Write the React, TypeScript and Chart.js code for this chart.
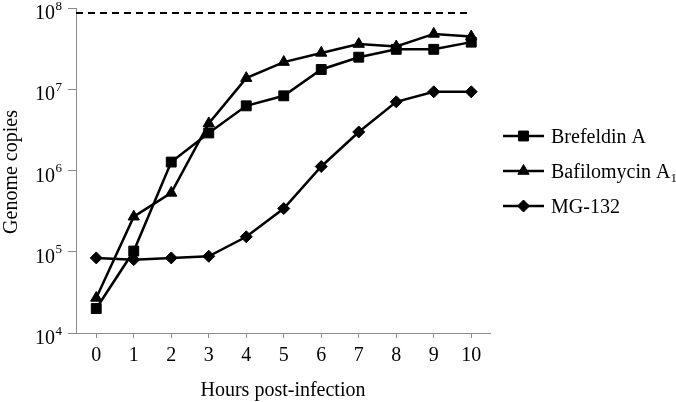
import React, { useEffect, useRef } from 'react';
import { Chart, registerables } from 'chart.js';

Chart.register(...registerables);

const FONT = "'Liberation Serif', 'Times New Roman', serif";

const hours = [0, 1, 2, 3, 4, 5, 6, 7, 8, 9, 10];
const brefeldinA = [2.0e4, 1.02e5, 1.27e6, 2.9e6, 6.25e6, 8.3e6, 1.75e7, 2.48e7, 3.1e7, 3.1e7, 3.8e7];
const bafilomycinA1 = [2.7e4, 2.7e5, 5.3e5, 3.8e6, 1.37e7, 2.16e7, 2.8e7, 3.6e7, 3.36e7, 4.8e7, 4.45e7];
const mg132 = [8.4e4, 8.0e4, 8.4e4, 8.8e4, 1.53e5, 3.4e5, 1.12e6, 2.98e6, 7.0e6, 9.3e6, 9.3e6];
const yTickValues = [1e4, 1e5, 1e6, 1e7, 1e8];
const limitValue = 8.7e7;
const limitRange = [-0.54, 10];
const seriesLabels = ['Brefeldin A', 'Bafilomycin A₁', 'MG-132'];
const seriesMarkers = ['rect', 'triangle', 'rectRot'];
const seriesRadii = [7, 6.5, 6];
const xTitle = 'Hours post-infection';
const yTitle = 'Genome copies';

function drawMarker(ctx: CanvasRenderingContext2D, style: string, x: number, y: number, r: number) {
  ctx.beginPath();
  if (style === 'rect') {
    const s = Math.SQRT1_2 * r;
    ctx.rect(x - s, y - s, 2 * s, 2 * s);
  } else if (style === 'triangle') {
    ctx.moveTo(x, y - r);
    ctx.lineTo(x + r * Math.sqrt(3) / 2, y + r / 2);
    ctx.lineTo(x - r * Math.sqrt(3) / 2, y + r / 2);
    ctx.closePath();
  } else {
    ctx.moveTo(x, y - r);
    ctx.lineTo(x + r, y);
    ctx.lineTo(x, y + r);
    ctx.lineTo(x - r, y);
    ctx.closePath();
  }
  ctx.fill();
  ctx.stroke();
}

const decorPlugin = {
  id: 'decor',
  afterDraw(chart: any) {
    const ctx = chart.ctx as CanvasRenderingContext2D;
    const ys = chart.scales.y;
    const area = chart.chartArea;
    ctx.save();
    ctx.fillStyle = '#000';
    ctx.textBaseline = 'alphabetic';
    // y tick labels 10^n
    yTickValues.forEach((v) => {
      const py = ys.getPixelForValue(v);
      const exp = Math.round(Math.log10(v));
      ctx.font = `20px ${FONT}`;
      ctx.textAlign = 'right';
      ctx.fillText('10', area.left - 21, py + 11);
      ctx.font = `13px ${FONT}`;
      ctx.textAlign = 'left';
      ctx.fillText(String(exp), area.left - 20.5, py + 1.5);
    });
    // y title
    ctx.save();
    ctx.translate(17, 172);
    ctx.rotate(-Math.PI / 2);
    ctx.font = `20px ${FONT}`;
    ctx.textAlign = 'center';
    ctx.fillText(yTitle, 0, 0);
    ctx.restore();
    // x title
    ctx.font = `20px ${FONT}`;
    ctx.textAlign = 'center';
    ctx.fillText(xTitle, (area.left + area.right) / 2, 396);
    // legend
    const rows = [136, 171, 206];
    const ds = chart.data.datasets.filter((d: any) => seriesLabels.includes(d.label));
    ds.forEach((d: any, i: number) => {
      const y = rows[i];
      ctx.strokeStyle = '#000';
      ctx.lineWidth = 2.5;
      ctx.beginPath();
      ctx.moveTo(503, y);
      ctx.lineTo(544, y);
      ctx.stroke();
      ctx.lineWidth = 1;
      ctx.fillStyle = '#000';
      drawMarker(ctx, seriesMarkers[i], 523.5, y, seriesRadii[i]);
      const label: string = d.label;
      ctx.font = `20px ${FONT}`;
      ctx.textAlign = 'left';
      if (label.endsWith('₁')) {
        const main = label.slice(0, -1);
        ctx.fillText(main, 551, y + 6.5);
        const w = ctx.measureText(main).width;
        ctx.font = `13px ${FONT}`;
        ctx.fillText('1', 551 + w, y + 11);
      } else {
        ctx.fillText(label, 551, y + 6.5);
      }
    });
    ctx.restore();
  },
};

export default function App() {
  const ref = useRef<HTMLCanvasElement | null>(null);
  useEffect(() => {
    if (!ref.current) return;
    const mk = (vals: number[]) => vals.map((v, i) => ({ x: hours[i], y: v }));
    const seriesData = [brefeldinA, bafilomycinA1, mg132];
    const datasets: any[] = seriesData.map((vals, i) => ({
      label: seriesLabels[i],
      data: mk(vals),
      borderColor: '#000',
      backgroundColor: '#000',
      borderWidth: 2.5,
      pointStyle: seriesMarkers[i],
      pointRadius: seriesRadii[i],
      pointBorderWidth: 1,
      pointBackgroundColor: '#000',
      pointBorderColor: '#000',
      tension: 0,
      clip: false,
    }));
    datasets.push({
      label: 'limit',
      data: limitRange.map((x) => ({ x, y: limitValue })),
      borderColor: '#000',
      borderWidth: 2,
      borderDash: [7, 5],
      pointRadius: 0,
      tension: 0,
    });
    const chart = new Chart(ref.current, {
      type: 'line',
      data: { datasets },
      options: {
        responsive: false,
        animation: false,
        layout: { padding: { left: 0, top: 5, right: 186, bottom: 0 } },
        plugins: { legend: { display: false }, tooltip: { enabled: false } },
        scales: {
          x: {
            type: 'linear',
            min: -0.54,
            max: 10.5,
            afterBuildTicks: (s: any) => {
              s.ticks = hours.map((v) => ({ value: v }));
            },
            afterFit: (s: any) => {
              s.height = 69;
            },
            ticks: { color: '#000', font: { family: FONT, size: 20 }, padding: 6, maxRotation: 0, autoSkip: false },
            grid: { drawOnChartArea: false, drawTicks: true, tickLength: 5, color: '#8c8c8c', lineWidth: 1 },
            border: { display: true, color: '#8c8c8c', width: 1 },
          },
          y: {
            type: 'logarithmic',
            min: 1e4,
            max: 1e8,
            afterBuildTicks: (s: any) => {
              s.ticks = yTickValues.map((v) => ({ value: v }));
            },
            afterFit: (s: any) => {
              s.width = 76;
            },
            ticks: { callback: () => '', padding: 0 },
            grid: { drawOnChartArea: false, drawTicks: true, tickLength: 8, color: '#8c8c8c', lineWidth: 1 },
            border: { display: true, color: '#8c8c8c', width: 1 },
          },
        },
      },
      plugins: [decorPlugin],
    });
    return () => chart.destroy();
  }, []);
  return (
    <div style={{ position: 'absolute', left: 0, top: 0, width: 676, height: 402, background: '#fff' }}>
      <canvas ref={ref} width={676} height={402} style={{ display: 'block' }} />
    </div>
  );
}
